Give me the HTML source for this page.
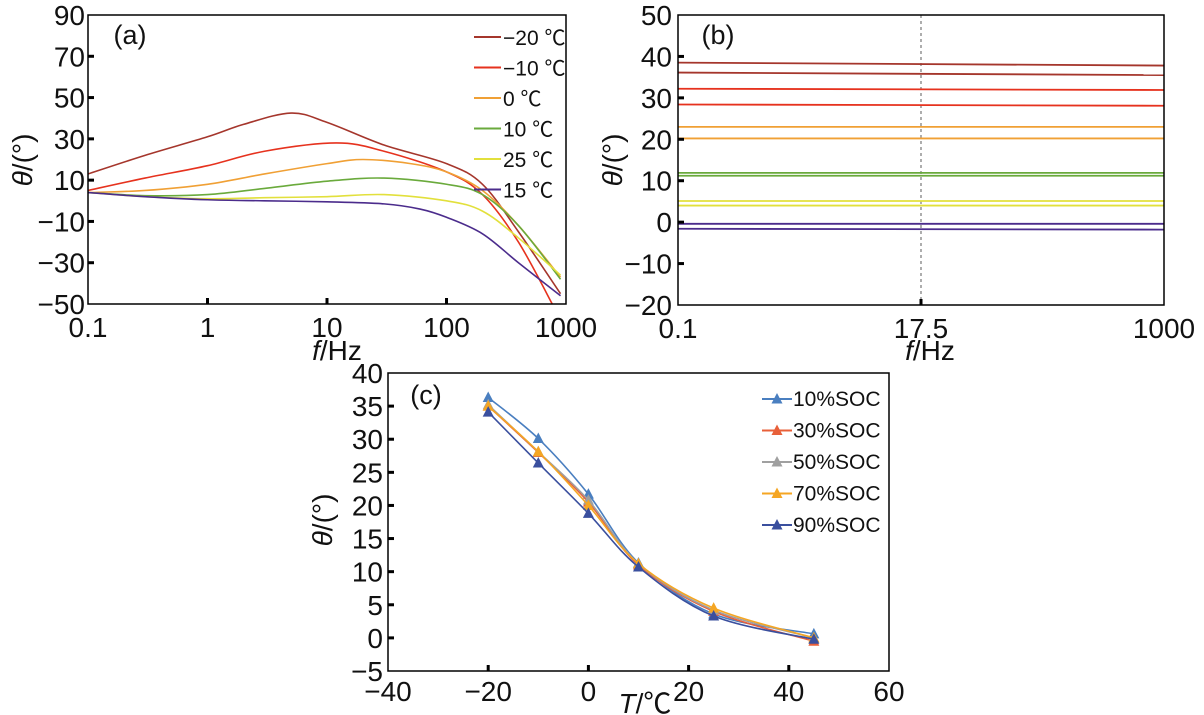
<!DOCTYPE html>
<html><head><meta charset="utf-8"><style>
html,body{margin:0;padding:0;background:#fff;}
svg{display:block;font-family:"Liberation Sans","Noto Sans CJK SC",sans-serif;}
</style></head><body>
<svg id="fig" width="1204" height="715" viewBox="0 0 1204 715" xmlns="http://www.w3.org/2000/svg"></svg>
<script>
// ---- Panel (a) data ----
const aSeriesNames = ["\u221220 \u2103","\u221210 \u2103","0 \u2103","10 \u2103","25 \u2103","15 \u2103"];
const aColors = ["#a5362c","#e6321e","#f0a035","#6aaa3c","#e2e03c","#4b2c8c"];
const aFreq0 = [0.1,0.3,1,2,5,10,30,100,200,400,900];
const aVals0 = [13,22,31,37,42.5,38,27,18,8,-15,-45];
const aFreq1 = [0.1,0.3,1,3,12,30,100,200,400,800];
const aVals1 = [5,11,17,24,28,24,14,3,-20,-52];
const aFreq2 = [0.1,0.3,1,3,10,20,50,100,200,400,900];
const aVals2 = [4,5,8,13,18,20,18,14,5,-12,-37];
const aFreq3 = [0.1,0.3,1,3,10,30,100,200,400,900];
const aVals3 = [4,2.5,3,6,9.5,11,8,3,-12,-38];
const aFreq4 = [0.1,0.3,1,3,10,30,100,200,400,900];
const aVals4 = [4,2,1,1.5,2,3,0,-5,-18,-36];
const aFreq5 = [0.1,0.3,1,3,10,30,60,100,200,400,900];
const aVals5 = [4,2,0.5,0,-0.5,-1.5,-4,-8,-16,-30,-46];
const aYTicks = [90,70,50,30,10,-10,-30,-50];
const aXTicks = [0.1,1,10,100,1000];
// ---- Panel (b) data ----
const bStart = [38.5,36.1,32.2,28.4,23,20.2,11.9,11.2,5.1,4,-0.4,-1.6];
const bEnd   = [37.8,35.5,31.9,28.1,23,20.2,11.9,11.2,5.1,4,-0.4,-1.8];
const bColorIdx = [0,0,1,1,2,2,3,3,4,4,5,5];
const bYTicks = [50,40,30,20,10,0,-10,-20];
const bXLabels = ["0.1","17.5","1000"];
// ---- Panel (c) data ----
const cTemps = [-20,-10,0,10,25,45];
const cNames = ["10%SOC","30%SOC","50%SOC","70%SOC","90%SOC"];
const cColors = ["#4a7fc0","#e8603a","#a0a0a0","#f5a623","#3a4f9e"];
const c10 = [36.3,30.1,21.7,11.3,3.6,0.6];
const c30 = [35,28,20.5,11,4,-0.5];
const c50 = [35.2,28.1,20.8,11.2,4.2,0];
const c70 = [35,28.1,20,11.2,4.5,0];
const c90 = [34.1,26.4,18.8,10.7,3.3,-0.2];
const cYTicks = [40,35,30,25,20,15,10,5,0,-5];
const cXTicks = [-40,-20,0,20,40,60];

const NS="http://www.w3.org/2000/svg";
const svg=document.getElementById('fig');
const TS=28, LS=21;
function mk(tag,attrs,parent){const e=document.createElementNS(NS,tag);for(const k in attrs)e.setAttribute(k,attrs[k]);(parent||svg).appendChild(e);return e;}
function txt(s,x,y,size,anchor,parent,extra){const t=mk('text',Object.assign({x:x,y:y,'font-size':size,'text-anchor':anchor||'middle',fill:'#111'},extra||{}),parent);t.textContent=s;return t;}
function smooth(pts){let d='M'+pts[0][0]+','+pts[0][1];for(let i=0;i<pts.length-1;i++){const p0=pts[i-1]||pts[i],p1=pts[i],p2=pts[i+1],p3=pts[i+2]||p2;const c1x=p1[0]+(p2[0]-p0[0])/6,c1y=p1[1]+(p2[1]-p0[1])/6,c2x=p2[0]-(p3[0]-p1[0])/6,c2y=p2[1]-(p3[1]-p1[1])/6;d+=' C'+c1x+','+c1y+' '+c2x+','+c2y+' '+p2[0]+','+p2[1];}return d;}

// ===== Panel A =====
const A={l:88,r:566,t:15,b:304};
const ax=f=>A.l+(Math.log10(f)+1)/4*(A.r-A.l);
const ay=v=>A.t+(90-v)/140*(A.b-A.t);
const gA=mk('g',{});
mk('defs',{}).innerHTML='<clipPath id="clipA"><rect x="88" y="15" width="478" height="289"/></clipPath>';
const aF=[aFreq0,aFreq1,aFreq2,aFreq3,aFreq4,aFreq5],aV=[aVals0,aVals1,aVals2,aVals3,aVals4,aVals5];
for(let s=0;s<6;s++){const pts=aF[s].map((f,i)=>[ax(f),ay(aV[s][i])]);const p=mk('path',{d:smooth(pts),fill:'none',stroke:aColors[s],'stroke-width':1.6,'clip-path':'url(#clipA)'},gA);

}
mk('rect',{x:A.l,y:A.t,width:A.r-A.l,height:A.b-A.t,fill:'none',stroke:'#000','stroke-width':1.5},gA);
aYTicks.forEach(v=>{const y=ay(v);if(v!==90&&v!==-50)mk('line',{x1:A.l,x2:A.l+6,y1:y,y2:y,stroke:'#000','stroke-width':3},gA);const t=txt(v<0?'\u2212'+(-v):String(v),A.l-3,y+10,TS,'end',gA);});
aXTicks.forEach(f=>{const x=ax(f);if(f>0.1&&f<1000)mk('line',{x1:x,x2:x,y1:A.b,y2:A.b-6,stroke:'#000','stroke-width':3},gA);const t=txt(String(f),x,A.b+33,TS,'middle',gA);});
let t=txt('(a)',130,44,27,'middle',gA);
t=mk('text',{x:337,y:360,'font-size':TS,'text-anchor':'middle',fill:'#111'},gA);t.innerHTML='<tspan font-style="italic">f</tspan>/Hz';
t=mk('text',{x:0,y:0,'font-size':TS,'text-anchor':'middle',fill:'#111',transform:'translate(32,160) rotate(-90)'},gA);t.innerHTML='<tspan font-style="italic">θ</tspan>/(°)';
aSeriesNames.forEach((n,i)=>{const y=37+i*30.5;const g=mk('g',{},gA);mk('line',{x1:474,x2:501,y1:y,y2:y,stroke:aColors[i],'stroke-width':2},g);txt(n,503,y+8,LS,'start',g);});

// ===== Panel B =====
const B={l:678,r:1164,t:15,b:305};
const by=v=>B.t+(50-v)/70*(B.b-B.t);
const gB=mk('g',{});
mk('line',{x1:921,x2:921,y1:B.t,y2:B.b,stroke:'#777','stroke-width':1.2,'stroke-dasharray':'3,3'},gB);
bStart.forEach((v,i)=>{const l=mk('line',{x1:B.l,x2:B.r,y1:by(v),y2:by(bEnd[i]),stroke:aColors[bColorIdx[i]],'stroke-width':1.8},gB);

});
mk('rect',{x:B.l,y:B.t,width:B.r-B.l,height:B.b-B.t,fill:'none',stroke:'#000','stroke-width':1.5},gB);
bYTicks.forEach(v=>{const y=by(v);if(v!==50&&v!==-20)mk('line',{x1:B.l,x2:B.l+6,y1:y,y2:y,stroke:'#000','stroke-width':3},gB);const t=txt(v<0?'\u2212'+(-v):String(v),B.l-6,y+10,TS,'end',gB);});
mk('line',{x1:921,x2:921,y1:B.b,y2:B.b-6,stroke:'#000','stroke-width':3},gB);
[B.l,921,B.r].forEach((x,i)=>{const t=txt(bXLabels[i],x,B.b+33,TS,'middle',gB);});
t=txt('(b)',718,44,27,'middle',gB);
t=mk('text',{x:930,y:360,'font-size':TS,'text-anchor':'middle',fill:'#111'},gB);t.innerHTML='<tspan font-style="italic">f</tspan>/Hz';
t=mk('text',{x:0,y:0,'font-size':TS,'text-anchor':'middle',fill:'#111',transform:'translate(622,160) rotate(-90)'},gB);t.innerHTML='<tspan font-style="italic">θ</tspan>/(°)';

// ===== Panel C =====
const C={l:388,r:889,t:373,b:671};
const cx=v=>C.l+(v+40)/100*(C.r-C.l);
const cy=v=>C.t+(40-v)/45*(C.b-C.t);
const gC=mk('g',{});
const cS=[c10,c30,c50,c70,c90];
function tri(x,y,col,par){return mk('polygon',{points:(x)+','+(y-6)+' '+(x-5.5)+','+(y+4.5)+' '+(x+5.5)+','+(y+4.5),fill:col},par);}
cS.forEach((vals,s)=>{const g=mk('g',{},gC);
const pts=cTemps.map((T,i)=>[cx(T),cy(vals[i])]);mk('path',{d:smooth(pts),fill:'none',stroke:cColors[s],'stroke-width':1.6},g);
pts.forEach(p=>{const m=tri(p[0],p[1],cColors[s],g);});});
mk('rect',{x:C.l,y:C.t,width:C.r-C.l,height:C.b-C.t,fill:'none',stroke:'#000','stroke-width':1.5},gC);
cYTicks.forEach(v=>{const y=cy(v);if(v!==40&&v!==-5)mk('line',{x1:C.l,x2:C.l+6,y1:y,y2:y,stroke:'#000','stroke-width':3},gC);const t=txt(v<0?'\u2212'+(-v):String(v),C.l-5,y+10,TS,'end',gC);});
cXTicks.forEach(v=>{const x=cx(v);if(v>-40&&v<60)mk('line',{x1:x,x2:x,y1:C.b,y2:C.b-6,stroke:'#000','stroke-width':3},gC);const t=txt(v<0?'\u2212'+(-v):String(v),x,C.b+30,TS,'middle',gC);});
t=txt('(c)',426,404,27,'middle',gC);
t=mk('text',{x:645,y:713,'font-size':TS,'text-anchor':'middle',fill:'#111'},gC);t.innerHTML='<tspan font-style="italic">T</tspan>/℃';
t=mk('text',{x:0,y:0,'font-size':TS,'text-anchor':'middle',fill:'#111',transform:'translate(332,520) rotate(-90)'},gC);t.innerHTML='<tspan font-style="italic">θ</tspan>/(°)';
cNames.forEach((n,i)=>{const y=399+i*31.5;const g=mk('g',{},gC);mk('line',{x1:762,x2:792,y1:y,y2:y,stroke:cColors[i],'stroke-width':2},g);tri(777,y,cColors[i],g);txt(n,793,y+7,LS,'start',g);});
</script>
</body></html>
